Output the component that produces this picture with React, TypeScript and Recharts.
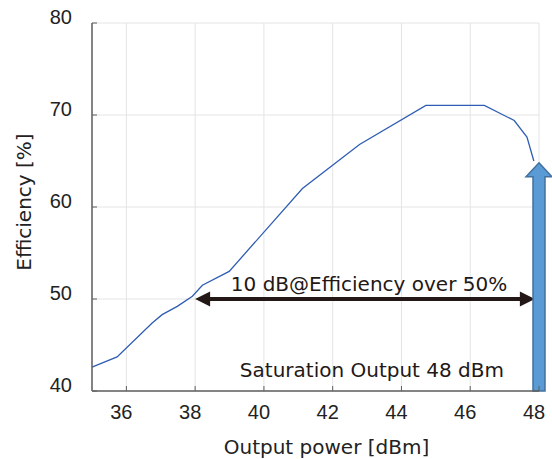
import React from "react";
import {
  LineChart,
  Line,
  XAxis,
  YAxis,
  CartesianGrid,
  ReferenceLine,
} from "recharts";

// output power [dBm] vs drain efficiency [%]
const power = [35, 35.73, 36.75, 37.04, 37.48, 37.92, 38.21, 38.99, 41.12, 42.78, 44.71, 46.41, 47.28, 47.65, 47.85];
const efficiency = [42.6, 43.7, 47.4, 48.3, 49.2, 50.3, 51.5, 53.0, 62.0, 66.8, 71.05, 71.05, 69.4, 67.6, 65.0];

const xTicks = [36, 38, 40, 42, 44, 46, 48];
const yTicks = [40, 50, 60, 70, 80];

// annotations
const rangeFrom = 38;
const rangeTo = 47.88;
const rangeLevel = 50;
const rangeText = "10 dB@Efficiency over 50%";
const satPower = 48;
const satTop = 64.8;
const satText = "Saturation Output 48 dBm";

const data = power.map((p, i) => ({ p, eff: efficiency[i] }));

const AXIS = "#5f5f5f";
const TICK_FONT = "'Liberation Sans', Arial, sans-serif";
const TEXT_FONT = "'DejaVu Sans', Verdana, sans-serif";

const BottomTick = (props: any) => {
  const { x, y, payload } = props;
  return (
    <g>
      <line x1={x} y1={y} x2={x} y2={y - 5} stroke={AXIS} strokeWidth={1} />
      <text x={x - 5} y={y + 28} textAnchor="middle" fontSize={20} fontFamily={TICK_FONT} fill="#222">
        {payload.value}
      </text>
    </g>
  );
};

const LeftTick = (props: any) => {
  const { x, y, payload } = props;
  return (
    <g>
      <line x1={x} y1={y} x2={x + 5} y2={y} stroke={AXIS} strokeWidth={1} />
      <text x={x - 20} y={y + 1} textAnchor="end" fontSize={20} fontFamily={TICK_FONT} fill="#222">
        {payload.value}
      </text>
    </g>
  );
};

const TopTick = (props: any) => {
  const { x, y } = props;
  return <line x1={x} y1={y} x2={x} y2={y + 5} stroke={AXIS} strokeWidth={1} />;
};

const RightTick = (props: any) => {
  const { x, y } = props;
  return <line x1={x} y1={y} x2={x - 5} y2={y} stroke={AXIS} strokeWidth={1} />;
};

const DoubleArrow = (props: any) => {
  const { x1, y1, x2 } = props;
  const head = 15;
  const hw = 7.5;
  const y = y1;
  return (
    <g>
      <line x1={x1 + head - 2} y1={y} x2={x2 - head + 2} y2={y} stroke="#231815" strokeWidth={4} />
      <polygon points={`${x1},${y} ${x1 + head},${y - hw} ${x1 + head},${y + hw}`} fill="#231815" />
      <polygon points={`${x2},${y} ${x2 - head},${y - hw} ${x2 - head},${y + hw}`} fill="#231815" />
      <text
        x={(x1 + x2) / 2 + 4}
        y={y - 8}
        textAnchor="middle"
        fontSize={20}
        fontFamily={TEXT_FONT}
        fill="#231815"
      >
        {rangeText}
      </text>
    </g>
  );
};

const SatArrow = (props: any) => {
  const { x1, y1, y2 } = props;
  const bottom = Math.max(y1, y2);
  const tip = Math.min(y1, y2);
  const sw = 6;
  const hw = 13;
  const hh = 14;
  const x = x1;
  const pts = [
    [x, tip],
    [x + hw, tip + hh],
    [x + sw, tip + hh],
    [x + sw, bottom],
    [x - sw, bottom],
    [x - sw, tip + hh],
    [x - hw, tip + hh],
  ]
    .map((q) => q.join(","))
    .join(" ");
  return (
    <g>
      <polygon points={pts} fill="#5b9bd5" stroke="#41719c" strokeWidth={1.5} />
      <text
        x={x - 35}
        y={bottom - 14}
        textAnchor="end"
        fontSize={20}
        fontFamily={TEXT_FONT}
        fill="#231815"
      >
        {satText}
      </text>
    </g>
  );
};

export default function App() {
  return (
    <div style={{ position: "absolute", left: 0, top: 0 }}>
      <LineChart
        width={552}
        height={459}
        data={data}
        margin={{ top: 23, right: 13, bottom: 0, left: 0 }}
      >
        <CartesianGrid stroke="#e4e4e4" strokeWidth={1} />
        <XAxis
          dataKey="p"
          type="number"
          domain={[35, 48]}
          ticks={xTicks}
          height={68}
          tickSize={0}
          tickMargin={0}
          tickLine={false}
          tick={<BottomTick />}
          axisLine={{ stroke: AXIS, strokeWidth: 1.5 }}
          label={{
            content: ({ viewBox }: any) => (
              <text
                x={viewBox.x + viewBox.width / 2 + 11}
                y={viewBox.y + 63}
                textAnchor="middle"
                fontSize={20}
                fontFamily={TEXT_FONT}
                fill="#222"
              >
                Output power [dBm]
              </text>
            ),
          }}
        />
        <XAxis
          xAxisId="top"
          orientation="top"
          type="number"
          domain={[35, 48]}
          ticks={xTicks}
          height={0}
          tickSize={0}
          tickMargin={0}
          tickLine={false}
          tick={<TopTick />}
          axisLine={{ stroke: AXIS, strokeWidth: 1.5 }}
        />
        <YAxis
          type="number"
          domain={[40, 80]}
          ticks={yTicks}
          width={92}
          tickSize={0}
          tickMargin={0}
          tickLine={false}
          tick={<LeftTick />}
          axisLine={{ stroke: AXIS, strokeWidth: 1.5 }}
          label={{
            content: ({ viewBox }: any) => {
              const cx = 31;
              const cy = viewBox.y + viewBox.height / 2 - 5;
              return (
                <text
                  x={cx}
                  y={cy}
                  transform={`rotate(-90, ${cx}, ${cy})`}
                  textAnchor="middle"
                  fontSize={20}
                  fontFamily={TEXT_FONT}
                  fill="#222"
                >
                  Efficiency [%]
                </text>
              );
            },
          }}
        />
        <YAxis
          yAxisId="right"
          orientation="right"
          type="number"
          domain={[40, 80]}
          ticks={yTicks}
          width={0}
          tickSize={0}
          tickMargin={0}
          tickLine={false}
          tick={<RightTick />}
          axisLine={{ stroke: "#888", strokeWidth: 2 }}
        />
        <Line
          type="linear"
          dataKey="eff"
          stroke="#2f5db3"
          strokeWidth={1.3}
          dot={false}
          isAnimationActive={false}
        />
        <ReferenceLine
          segment={[
            { x: rangeFrom, y: rangeLevel },
            { x: rangeTo, y: rangeLevel },
          ]}
          shape={DoubleArrow}
          ifOverflow="visible"
        />
        <ReferenceLine
          segment={[
            { x: satPower, y: 40 },
            { x: satPower, y: satTop },
          ]}
          shape={SatArrow}
          ifOverflow="visible"
        />
      </LineChart>
    </div>
  );
}
